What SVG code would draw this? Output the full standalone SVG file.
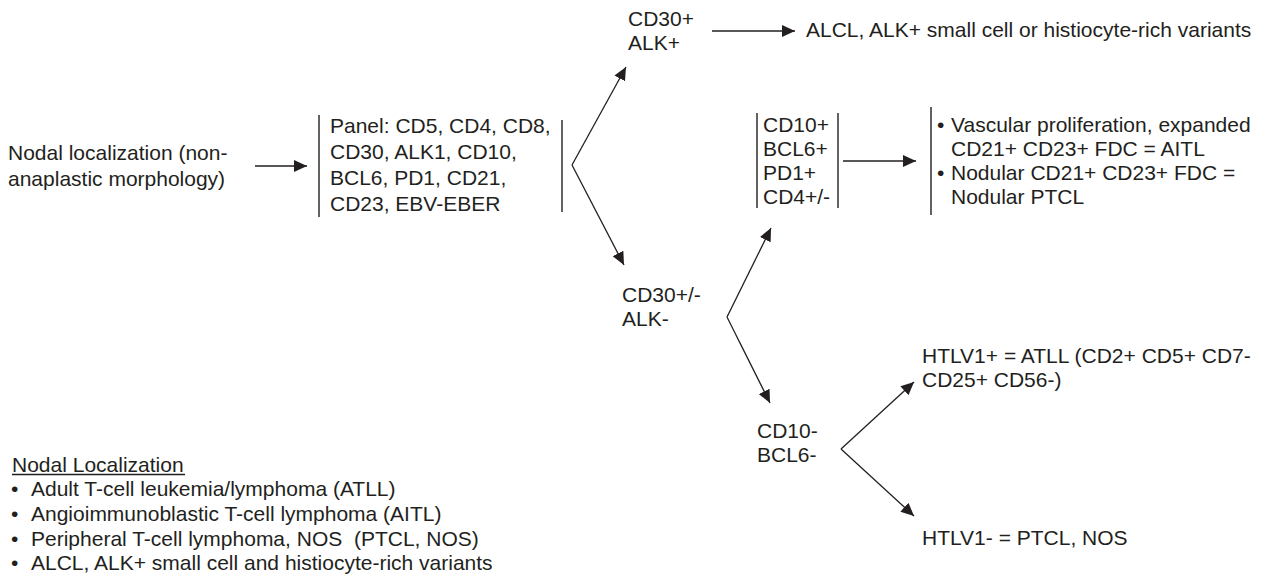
<svg xmlns="http://www.w3.org/2000/svg" width="1267" height="579" viewBox="0 0 1267 579">
<style>
text{font-family:"Liberation Sans",Arial,sans-serif;font-size:21px;fill:#231f20}
.bar{stroke:#231f20;stroke-width:1.4;fill:none}
.con{stroke:#231f20;stroke-width:1.3;fill:none;marker-end:url(#ah)}
.pre{white-space:pre}
</style>
<defs>
<marker id="ah" markerUnits="userSpaceOnUse" markerWidth="14" markerHeight="12" refX="13" refY="6" orient="auto" viewBox="0 0 14 12">
<path d="M0,0 L13,6 L0,12 z" fill="#231f20"/>
</marker>
</defs>
<rect width="1267" height="579" fill="#ffffff"/>
<g id="connectors">
<line class="con" x1="255" y1="166" x2="307" y2="166"/>
<line class="con" x1="572" y1="165" x2="626" y2="67"/>
<line class="con" x1="572" y1="165" x2="624" y2="265"/>
<line class="con" x1="712" y1="31" x2="795" y2="31"/>
<line class="con" x1="843" y1="161" x2="916" y2="161"/>
<line class="con" x1="727" y1="317" x2="771" y2="228"/>
<line class="con" x1="727" y1="317" x2="770" y2="403"/>
<line class="con" x1="841" y1="449" x2="914" y2="382"/>
<line class="con" x1="841" y1="449" x2="914" y2="516"/>
</g>
<g id="nodal">
<text x="8" y="160">Nodal localization (non-</text>
<text x="8" y="186">anaplastic morphology)</text>
</g>
<g id="panel">
<line class="bar" x1="319" y1="115" x2="319" y2="217"/>
<line class="bar" x1="562" y1="120" x2="562" y2="212"/>
<text x="330" y="133">Panel: CD5, CD4, CD8,</text>
<text x="330" y="159">CD30, ALK1, CD10,</text>
<text x="330" y="185">BCL6, PD1, CD21,</text>
<text x="330" y="211">CD23, EBV-EBER</text>
</g>
<g id="cd30pos">
<text x="628" y="26">CD30+</text>
<text x="628" y="50">ALK+</text>
</g>
<g id="alcl">
<text x="806" y="37">ALCL, ALK+ small cell or histiocyte-rich variants</text>
</g>
<g id="cd10pos">
<line class="bar" x1="757" y1="113" x2="757" y2="208"/>
<line class="bar" x1="838" y1="113" x2="838" y2="208"/>
<text x="763" y="132">CD10+</text>
<text x="763" y="156">BCL6+</text>
<text x="763" y="180">PD1+</text>
<text x="763" y="204">CD4+/-</text>
</g>
<g id="aitl">
<line class="bar" x1="931" y1="107" x2="931" y2="215"/>
<text x="937" y="132">•</text>
<text x="951" y="132">Vascular proliferation, expanded</text>
<text x="951" y="156">CD21+ CD23+ FDC = AITL</text>
<text x="937" y="180">•</text>
<text x="951" y="180">Nodular CD21+ CD23+ FDC =</text>
<text x="951" y="204">Nodular PTCL</text>
</g>
<g id="cd30neg">
<text x="622" y="302">CD30+/-</text>
<text x="622" y="326">ALK-</text>
</g>
<g id="cd10neg">
<text x="757" y="438">CD10-</text>
<text x="757" y="462">BCL6-</text>
</g>
<g id="htlvpos">
<text x="922" y="363">HTLV1+ = ATLL (CD2+ CD5+ CD7-</text>
<text x="922" y="387">CD25+ CD56-)</text>
</g>
<g id="htlvneg">
<text x="922" y="545">HTLV1- = PTCL, NOS</text>
</g>
<g id="legend">
<text x="12" y="472">Nodal Localization</text>
<line x1="12" y1="474.5" x2="185" y2="474.5" stroke="#231f20" stroke-width="1.3"/>
<text x="11" y="496">•</text>
<text x="31" y="496">Adult T-cell leukemia/lymphoma (ATLL)</text>
<text x="11" y="521">•</text>
<text x="31" y="521">Angioimmunoblastic T-cell lymphoma (AITL)</text>
<text x="11" y="546">•</text>
<text x="31" y="546" class="pre">Peripheral T-cell lymphoma, NOS  (PTCL, NOS)</text>
<text x="11" y="570">•</text>
<text x="31" y="570">ALCL, ALK+ small cell and histiocyte-rich variants</text>
</g>
</svg>
